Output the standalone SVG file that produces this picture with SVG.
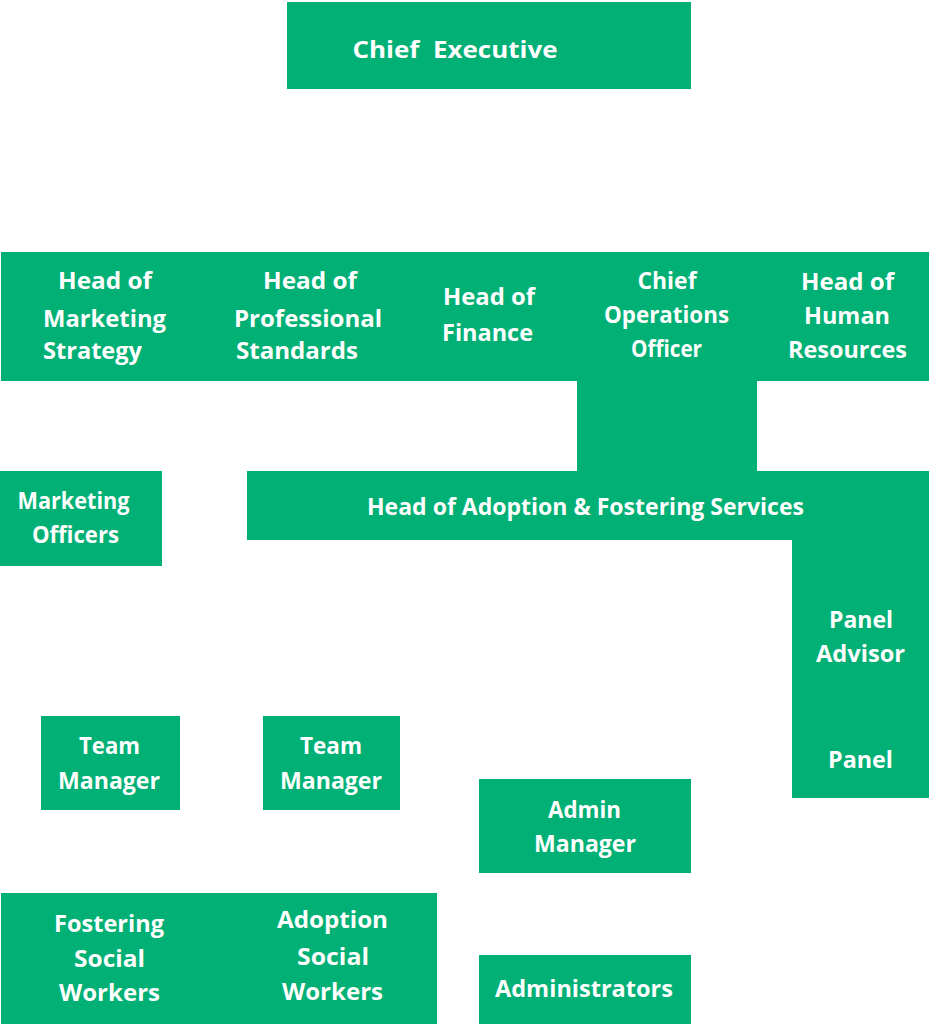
<svg xmlns="http://www.w3.org/2000/svg" width="929" height="1025" viewBox="0 0 929 1025">
<style>
.box{fill:#01B075;shape-rendering:crispEdges}
text{font-family:"Open Sans","Noto Sans","DejaVu Sans",sans-serif;font-weight:700;fill:#FFFFFF;text-anchor:middle;font-size:23px}
</style>
<rect width="929" height="1025" fill="#FFFFFF"/>
<g id="connectors">
<rect class="box" x="577" y="380" width="180" height="92"/>
</g>
<g id="chief-executive">
<rect class="box" x="287" y="2" width="404" height="87"/>
<text x="455" y="58" font-size="29" textLength="205" lengthAdjust="spacingAndGlyphs" xml:space="preserve">Chief  Executive</text>
</g>
<g id="head-marketing">
<rect class="box" x="1" y="252" width="206" height="129"/>
<text x="105" y="289" textLength="94" lengthAdjust="spacingAndGlyphs">Head of</text>
<text x="104.5" y="327" textLength="123" lengthAdjust="spacingAndGlyphs">Marketing</text>
<text x="92.5" y="359" textLength="99" lengthAdjust="spacingAndGlyphs">Strategy</text>
</g>
<g id="head-professional">
<rect class="box" x="206" y="252" width="205" height="129"/>
<text x="310" y="289" textLength="94" lengthAdjust="spacingAndGlyphs">Head of</text>
<text x="308" y="327" textLength="148" lengthAdjust="spacingAndGlyphs">Professional</text>
<text x="297" y="359" textLength="122" lengthAdjust="spacingAndGlyphs">Standards</text>
</g>
<g id="head-finance">
<rect class="box" x="410" y="252" width="168" height="129"/>
<text x="489" y="305" textLength="92" lengthAdjust="spacingAndGlyphs">Head of</text>
<text x="487.5" y="341" textLength="91" lengthAdjust="spacingAndGlyphs">Finance</text>
</g>
<g id="coo">
<rect class="box" x="577" y="252" width="181" height="129"/>
<text x="667" y="289" textLength="59" lengthAdjust="spacingAndGlyphs">Chief</text>
<text x="666.5" y="323" textLength="125" lengthAdjust="spacingAndGlyphs">Operations</text>
<text x="666.5" y="357" textLength="71" lengthAdjust="spacingAndGlyphs">Officer</text>
</g>
<g id="head-hr">
<rect class="box" x="757" y="252" width="172" height="129"/>
<text x="847.5" y="290" textLength="93" lengthAdjust="spacingAndGlyphs">Head of</text>
<text x="847" y="324" textLength="86" lengthAdjust="spacingAndGlyphs">Human</text>
<text x="847.5" y="358" textLength="119" lengthAdjust="spacingAndGlyphs">Resources</text>
</g>
<g id="marketing-officers">
<rect class="box" x="0" y="471" width="162" height="95"/>
<text x="73.5" y="509" textLength="112" lengthAdjust="spacingAndGlyphs">Marketing</text>
<text x="75.5" y="543" textLength="87" lengthAdjust="spacingAndGlyphs">Officers</text>
</g>
<g id="head-adoption">
<rect class="box" x="247" y="471" width="682" height="69"/>
<text x="585.5" y="515" textLength="437" lengthAdjust="spacingAndGlyphs">Head of Adoption &amp; Fostering Services</text>
</g>
<g id="panel-advisor">
<rect class="box" x="792" y="539" width="137" height="162"/>
<text x="861" y="628" textLength="64" lengthAdjust="spacingAndGlyphs">Panel</text>
<text x="860.5" y="662" textLength="89" lengthAdjust="spacingAndGlyphs">Advisor</text>
</g>
<g id="panel">
<rect class="box" x="792" y="700" width="137" height="98"/>
<text x="860.5" y="768" textLength="65" lengthAdjust="spacingAndGlyphs">Panel</text>
</g>
<g id="team-manager-1">
<rect class="box" x="41" y="716" width="139" height="94"/>
<text x="109.5" y="754" textLength="61" lengthAdjust="spacingAndGlyphs">Team</text>
<text x="109" y="789" textLength="102" lengthAdjust="spacingAndGlyphs">Manager</text>
</g>
<g id="team-manager-2">
<rect class="box" x="263" y="716" width="137" height="94"/>
<text x="331" y="754" textLength="62" lengthAdjust="spacingAndGlyphs">Team</text>
<text x="331" y="789" textLength="102" lengthAdjust="spacingAndGlyphs">Manager</text>
</g>
<g id="admin-manager">
<rect class="box" x="479" y="779" width="212" height="94"/>
<text x="584.5" y="818" textLength="73" lengthAdjust="spacingAndGlyphs">Admin</text>
<text x="585" y="852" textLength="102" lengthAdjust="spacingAndGlyphs">Manager</text>
</g>
<g id="fostering-social-workers">
<rect class="box" x="1" y="893" width="219" height="131"/>
<text x="109" y="932" textLength="110" lengthAdjust="spacingAndGlyphs">Fostering</text>
<text x="109.5" y="967" textLength="71" lengthAdjust="spacingAndGlyphs">Social</text>
<text x="109.5" y="1001" textLength="101" lengthAdjust="spacingAndGlyphs">Workers</text>
</g>
<g id="adoption-social-workers">
<rect class="box" x="219" y="893" width="218" height="131"/>
<text x="332.5" y="928" textLength="111" lengthAdjust="spacingAndGlyphs">Adoption</text>
<text x="333" y="965" textLength="72" lengthAdjust="spacingAndGlyphs">Social</text>
<text x="332.5" y="1000" textLength="101" lengthAdjust="spacingAndGlyphs">Workers</text>
</g>
<g id="administrators">
<rect class="box" x="479" y="955" width="212" height="69"/>
<text x="584" y="997" textLength="178" lengthAdjust="spacingAndGlyphs">Administrators</text>
</g>
</svg>
